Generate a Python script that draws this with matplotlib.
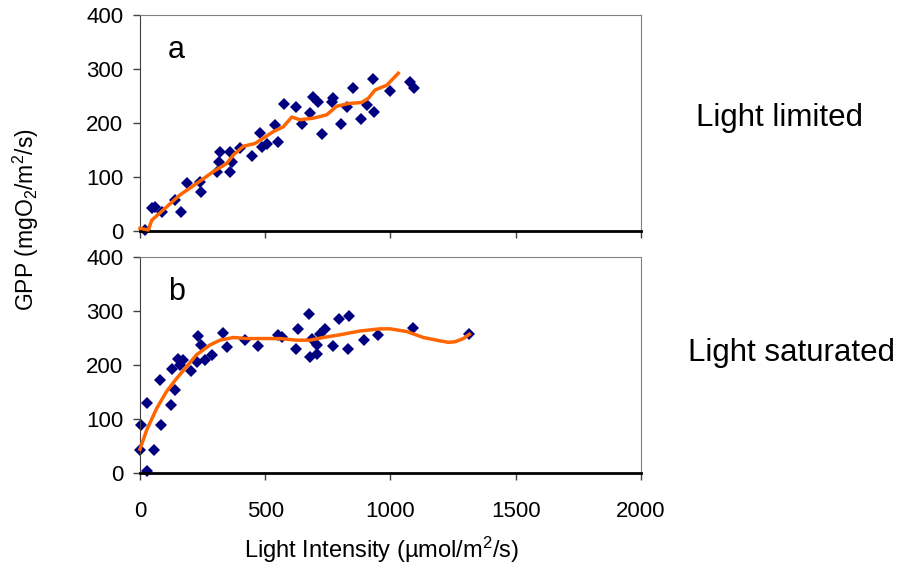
import matplotlib
matplotlib.use("Agg")
import matplotlib.pyplot as plt

plt.rcParams['font.family'] = ['Liberation Sans', 'DejaVu Sans']
plt.rcParams['mathtext.fontset'] = 'custom'
plt.rcParams['mathtext.rm'] = 'Liberation Sans'

# panel a: light limited
a_x = [20, 47, 60, 87, 140, 162, 186, 240, 242, 306, 317, 319, 359, 366, 359, 399,
       446, 479, 486, 506, 539, 552, 576, 621, 648, 679, 689, 712, 728, 769, 765,
       801, 828, 852, 882, 908, 931, 935, 998, 1078, 1094]
a_y = [2, 42, 45, 36, 57, 36, 88, 91, 73, 110, 128, 147, 110, 128, 147, 153,
       139, 181, 156, 162, 196, 165, 235, 229, 198, 218, 248, 239, 180, 246, 238,
       199, 229, 264, 207, 233, 281, 221, 260, 275, 265]
a_fit_x = [0, 33, 47, 93, 160, 226, 293, 346, 373, 413, 459, 492, 532, 572, 606,
           639, 692, 745, 785, 832, 885, 912, 938, 985, 1031]
a_fit_y = [5, 2, 20, 39, 67, 88, 110, 125, 141, 157, 162, 172, 184, 193, 211,
           206, 209, 215, 231, 236, 238, 246, 261, 270, 292]

# panel b: light saturated
b_x = [0, 3, 27, 29, 56, 83, 80, 122, 140, 129, 153, 173, 160, 202, 226, 233, 242,
       259, 286, 330, 349, 419, 470, 552, 565, 621, 632, 675, 679, 705, 685, 705,
       719, 738, 769, 796, 836, 829, 896, 951, 1091, 1313]
b_y = [43, 89, 129, 4, 43, 89, 173, 126, 154, 192, 212, 209, 200, 188, 206, 254, 237,
       209, 218, 260, 234, 246, 235, 256, 252, 229, 266, 294, 214, 220, 248, 237,
       257, 266, 235, 286, 291, 229, 246, 256, 268, 257]
b_fit_x = [0, 27, 67, 106, 146, 186, 226, 279, 319, 373, 426, 492, 559, 625, 679,
           732, 798, 878, 958, 998, 1065, 1131, 1184, 1231, 1257, 1291, 1315]
b_fit_y = [44, 80, 120, 151, 175, 197, 219, 237, 246, 251, 249, 249, 249, 246, 246,
           251, 256, 263, 267, 267, 262, 251, 246, 242, 243, 249, 257]

x_ticks = [0, 500, 1000, 1500, 2000]
y_ticks = [0, 100, 200, 300, 400]

fig = plt.figure(figsize=(8.98, 5.66), dpi=100)
ax_a = fig.add_axes([0.1559, 0.5919, 0.5579, 0.3816])
ax_b = fig.add_axes([0.1559, 0.1643, 0.5579, 0.3816])

panels = [(ax_a, a_x, a_y, a_fit_x, a_fit_y, 'a'),
          (ax_b, b_x, b_y, b_fit_x, b_fit_y, 'b')]

for ax, px, py, fx, fy, tag in panels:
    ax.plot(fx, fy, color='#FF6600', linewidth=2.5, zorder=3, clip_on=False)
    ax.plot(px, py, linestyle='none', marker='D', markersize=6.4,
            color='#000080', markeredgewidth=0, zorder=2, clip_on=False)
    ax.set_xlim(0, 2000)
    ax.set_ylim(0, 400)
    ax.set_xticks(x_ticks)
    ax.set_yticks(y_ticks)
    ax.tick_params(axis='x', direction='out', length=5, width=1, pad=15,
                   labelsize=16, color='#404040')
    ax.tick_params(axis='y', direction='out', length=5, width=1, pad=7,
                   labelsize=16, color='#404040')
    ax.spines['left'].set_color('#404040')
    ax.spines['top'].set_color('#808080')
    ax.spines['right'].set_color('#808080')
    ax.spines['bottom'].set_color('black')
    ax.spines['bottom'].set_linewidth(2)
    ax.text(144, 335, tag, fontsize=22, ha='center', va='center')

ax_a.tick_params(axis='x', labelbottom=False)

fig.text(26 / 898, 1 - 220 / 566, r'GPP (mgO$\mathregular{_2}$/m$\mathregular{^2}$/s)',
         rotation=90, ha='center', va='center', fontsize=16.5)
fig.text(382 / 898, 1 - 550 / 566, 'Light Intensity (µmol/m$\\mathregular{^2}$/s)',
         ha='center', va='center', fontsize=17)
fig.text(780 / 898, 1 - 118 / 566, 'Light limited', ha='center', va='center', fontsize=22.5)
fig.text(791 / 898, 1 - 353 / 566, 'Light saturated', ha='center', va='center', fontsize=22.5)

fig.savefig('out.png', dpi=100)
